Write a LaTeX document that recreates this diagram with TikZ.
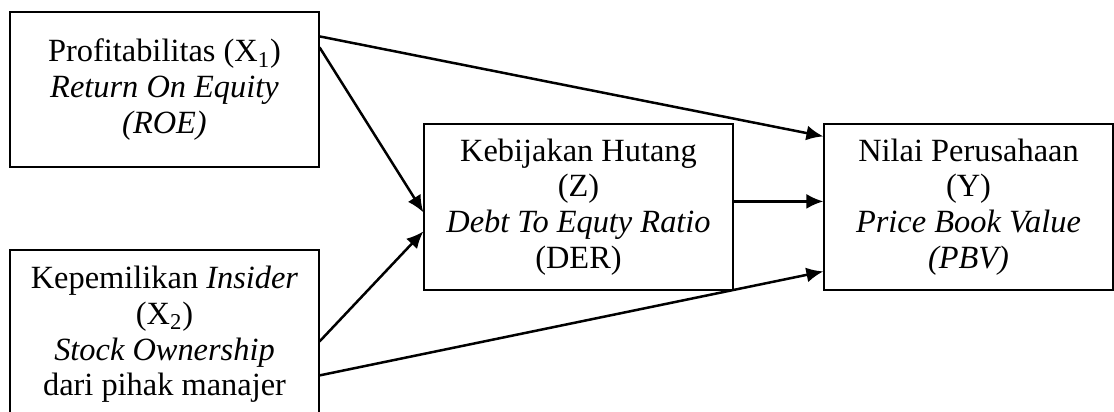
\documentclass[tikz,border=0pt]{standalone}
\usepackage{fontspec}
\setmainfont{Liberation Serif}
\usetikzlibrary{arrows.meta,calc}
\tikzset{
  box/.style={draw=black, line width=0.6pt, rectangle, inner sep=0pt, align=center,
              font=\fontsize{16.2}{17.8}\selectfont},
  txt/.style={inner sep=0pt, align=center, font=\fontsize{16.2}{17.8}\selectfont},
  arr/.style={line width=1.25pt, -{Latex[length=8.5pt,width=7.5pt]}}
}
\begin{document}
\begin{tikzpicture}[x=0.5pt,y=-0.5pt]
\useasboundingbox (0,0) rectangle (1114,412);
\node[box, minimum width=154.5pt, minimum height=77.5pt] (x1) at (164.5,89.5)
  {Profitabilitas (X\textsubscript{1})\\ \textit{Return On Equity}\\ \textit{(ROE)}};
\node[box, minimum width=154.5pt, minimum height=100pt] (x2) at (164.5,350) {};
\node[txt, anchor=north] (x2t) at (164.5,266)
  {Kepemilikan \textit{Insider}\\ (X\textsubscript{2})\\ \textit{Stock Ownership}\\ dari pihak manajer};
\node[box, minimum width=154.5pt, minimum height=83pt] (z) at (578.5,207)
  {Kebijakan Hutang\\ (Z)\\ \textit{Debt To Equty Ratio}\\ (DER)};
\node[box, minimum width=144.5pt, minimum height=83pt] (y) at (968.5,207)
  {Nilai Perusahaan\\ (Y)\\ \textit{Price Book Value}\\ \textit{(PBV)}};
\draw[arr] ($(x1.north east)+(0,25)$) -- ($(y.north west)+(0,13)$);
\draw[arr] ($(x1.north east)+(0,36)$) -- ($(z.north west)+(0,89)$);
\draw[arr] ($(x2.north east)+(0,92)$) -- ($(z.north west)+(0,108)$);
\draw[arr] ($(x2.north east)+(0,126)$) -- ($(y.north west)+(0,148)$);
\draw[arr] ($(z.north east)+(0,78)$) -- ($(y.north west)+(0,78)$);
\end{tikzpicture}
\end{document}
